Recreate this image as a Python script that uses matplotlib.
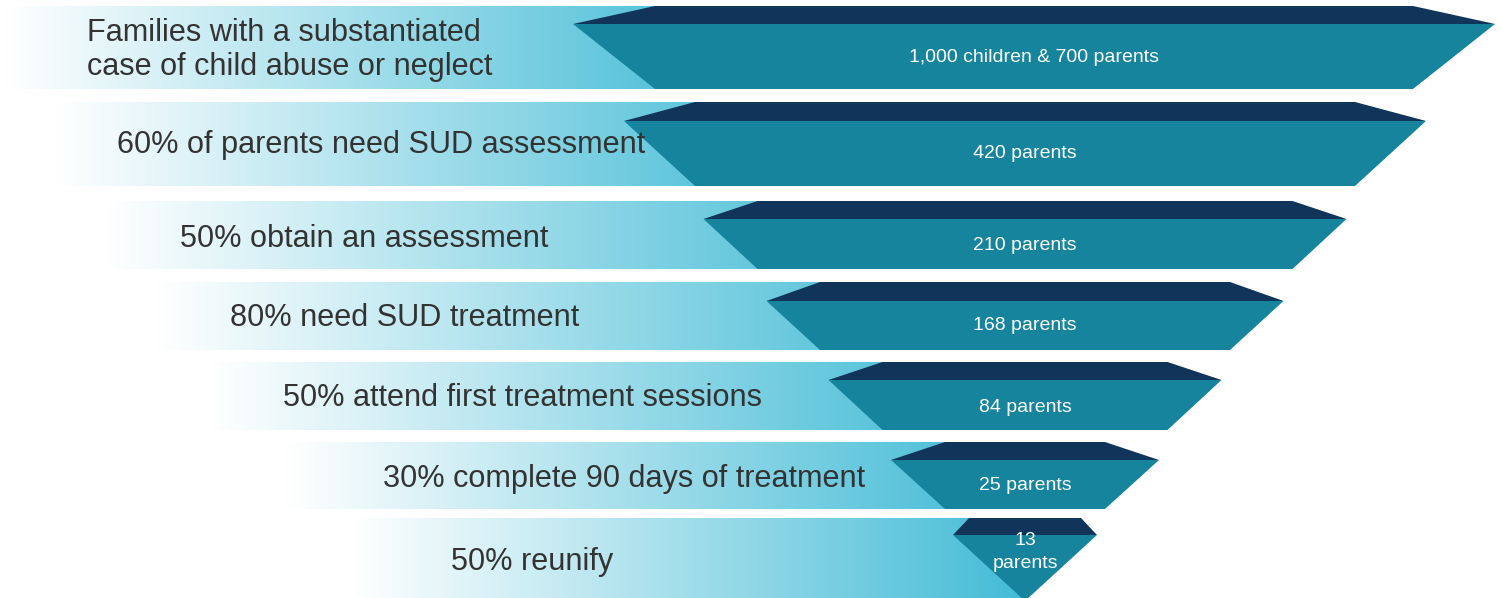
import numpy as np
import matplotlib
matplotlib.use("Agg")
import matplotlib.pyplot as plt
from matplotlib.patches import Polygon
from matplotlib.colors import LinearSegmentedColormap

# ---- data ----
stage_labels = [
    "Families with a substantiated\ncase of child abuse or neglect",
    "60% of parents need SUD assessment",
    "50% obtain an assessment",
    "80% need SUD treatment",
    "50% attend first treatment sessions",
    "30% complete 90 days of treatment",
    "50% reunify",
]
count_labels = [
    "1,000 children & 700 parents",
    "420 parents",
    "210 parents",
    "168 parents",
    "84 parents",
    "25 parents",
    "13\nparents",
]

# ---- layout (pixel space) ----
W, H = 1502, 598
row_top = [6, 102, 201, 282, 362, 442, 518]
row_mid = [24, 121, 219, 301, 380, 460, 535]
row_bot = [89, 186, 269, 350, 430, 509, 601]
center_x = [1034, 1025, 1025, 1025, 1025, 1025, 1025]
half_mid = [461, 401, 321.5, 258.5, 196.5, 134, 72]
half_top = [379, 330, 267.5, 205, 142.5, 80, 56]
half_bot = [379, 330, 267.5, 205, 142.5, 80, 0]
band_left = [5, 55, 105, 155, 210, 285, 350]
band_right = [737, 806, 895, 957, 975, 1000, 1025]
band_bot = [89, 186, 269, 350, 430, 509, 598]
text_x = [87, 117, 180, 230, 283, 383, 451]
text_y = [50, 145, 239, 318, 398, 479, 562]
count_y = [58, 154, 245, 326, 408, 486, 552]
count_spacing = [1.2, 1.2, 1.2, 1.2, 1.2, 1.2, 1.4]

NAVY = "#10345A"
TEAL = "#17849E"
TXT = "#333333"

cmap = LinearSegmentedColormap.from_list("band", ["#FFFFFF", "#44BCD6"])

fig = plt.figure(figsize=(W / 100, H / 100), dpi=100)
ax = fig.add_axes([0, 0, 1, 1])
ax.set_xlim(0, W)
ax.set_ylim(H, 0)
ax.axis("off")

grad = np.linspace(0, 1, 512).reshape(1, -1)
for i in range(len(stage_labels)):
    ax.imshow(grad, cmap=cmap, aspect="auto",
              extent=(band_left[i], band_right[i], band_bot[i], row_top[i]),
              zorder=1, interpolation="bicubic")
    cx = center_x[i]
    # dark top face
    top_poly = [(cx - half_top[i], row_top[i]), (cx + half_top[i], row_top[i]),
                (cx + half_mid[i], row_mid[i]), (cx - half_mid[i], row_mid[i])]
    ax.add_patch(Polygon(top_poly, closed=True, facecolor=NAVY, edgecolor="none", zorder=2))
    # teal body
    if half_bot[i] > 0:
        body = [(cx - half_mid[i], row_mid[i]), (cx + half_mid[i], row_mid[i]),
                (cx + half_bot[i], row_bot[i]), (cx - half_bot[i], row_bot[i])]
    else:
        body = [(cx - half_mid[i], row_mid[i]), (cx + half_mid[i], row_mid[i]),
                (cx, row_bot[i])]
    ax.add_patch(Polygon(body, closed=True, facecolor=TEAL, edgecolor="none", zorder=2))

    ax.text(text_x[i], text_y[i], stage_labels[i], ha="left", va="center",
            fontsize=22.1, color=TXT, family=["Liberation Sans", "DejaVu Sans"],
            linespacing=1.2, zorder=3)
    ax.text(cx, count_y[i], count_labels[i], ha="center", va="center",
            fontsize=14, color="white", family=["Liberation Sans", "DejaVu Sans"],
            linespacing=count_spacing[i], zorder=3)

ax.set_xlim(0, W)
ax.set_ylim(H, 0)
fig.savefig("out.png", dpi=100)
